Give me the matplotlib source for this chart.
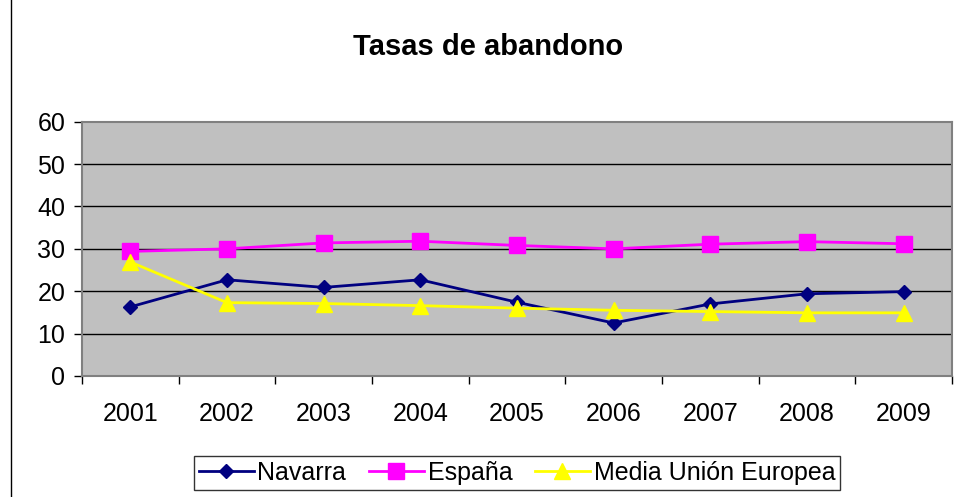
import matplotlib.pyplot as plt
from matplotlib.lines import Line2D

years = ["2001", "2002", "2003", "2004", "2005", "2006", "2007", "2008", "2009"]
navarra = [16.3, 22.7, 20.9, 22.7, 17.4, 12.5, 17.0, 19.4, 19.9]
espana = [29.4, 30.0, 31.4, 31.8, 30.8, 30.0, 31.1, 31.7, 31.2]
media_ue = [26.9, 17.3, 17.1, 16.6, 16.0, 15.5, 15.2, 14.9, 14.9]

plt.rcParams['font.family'] = ['Liberation Sans', 'DejaVu Sans']

fig = plt.figure(figsize=(9.59, 4.97), dpi=100)
ax = fig.add_axes([0.0855, 0.2435, 0.9072, 0.5116])
ax.set_facecolor('#C0C0C0')

x = list(range(len(years)))
ax.plot(x, navarra, color='#000080', lw=2, marker='D', ms=7.5, label='Navarra', zorder=3)
ax.plot(x, espana, color='#FF00FF', lw=2, marker='s', ms=11, label='España', zorder=3)
ax.plot(x, media_ue, color='#FFFF00', lw=2, marker='^', ms=11, label='Media Unión Europea', zorder=3)

ax.set_xlim(-0.5, len(years) - 0.5)
ax.set_ylim(0, 60)
ax.set_yticks(range(0, 61, 10))
ax.tick_params(axis='y', labelsize=18, length=6, width=1, color='black', pad=6)
ax.set_xticks(x)
ax.set_xticklabels(years)
ax.tick_params(axis='x', which='major', length=0, labelsize=18, pad=19)
ax.set_xticks([i - 0.5 for i in range(len(years) + 1)], minor=True)
ax.tick_params(axis='x', which='minor', length=6, width=1, color='black')

for v in range(10, 60, 10):
    ax.axhline(v, color='black', lw=1, zorder=1)

for s in ['top', 'right', 'left', 'bottom']:
    ax.spines[s].set_color('#808080')
    ax.spines[s].set_linewidth(1.5)

fig.text(0.509, 0.906, 'Tasas de abandono', ha='center', va='center',
         fontsize=21, fontweight='bold')

# left border of chart area
fig.add_artist(Line2D([11 / 959, 11 / 959], [0, 1], color='black', lw=1))

leg = fig.legend(loc='center', bbox_to_anchor=(0.539, 0.048), ncol=3,
                 fontsize=18, frameon=True, fancybox=False, edgecolor='black',
                 handlelength=2.2, handletextpad=0.15, columnspacing=0.9,
                 borderpad=0.2)
leg.get_frame().set_linewidth(1)

fig.savefig('out.png', dpi=100)
